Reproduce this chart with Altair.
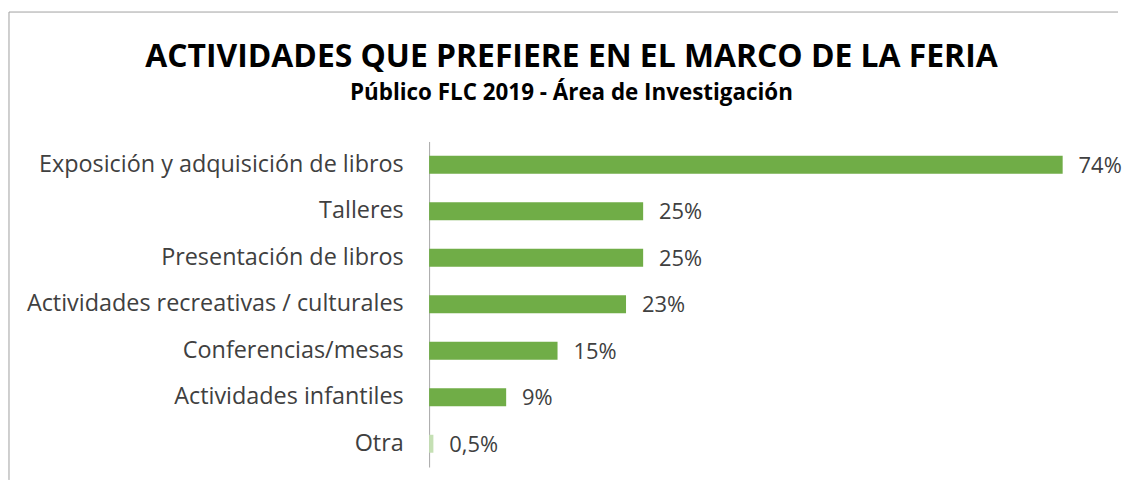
import altair as alt
import pandas as pd

categorias = [
    "Exposición y adquisición de libros",
    "Talleres",
    "Presentación de libros",
    "Actividades recreativas / culturales",
    "Conferencias/mesas",
    "Actividades infantiles",
    "Otra",
]
porcentajes = [74, 25, 25, 23, 15, 9, 0.5]
etiquetas = ["74%", "25%", "25%", "23%", "15%", "9%", "0,5%"]

df = pd.DataFrame({"categoria": categorias, "valor": porcentajes, "etiqueta": etiquetas})

FONT = "Open Sans"

y_enc = alt.Y(
    "categoria:N",
    sort=categorias,
    title=None,
    scale=alt.Scale(paddingInner=0.614, paddingOuter=0.307),
    axis=alt.Axis(
        labelFont=FONT,
        labelFontSize=23.5,
        labelColor="#404040",
        labelPadding=26,
        labelLimit=0,
        ticks=False,
        domainColor="#A6A6A6",
        domainWidth=1,
        grid=False,
        minExtent=422,
        maxExtent=422,
    ),
)
x_enc = alt.X("valor:Q", axis=None, scale=alt.Scale(domain=[0, 80], nice=False))

base = alt.Chart(df)

bars = base.mark_bar().encode(
    x=x_enc,
    y=y_enc,
    color=alt.condition(
        alt.datum.categoria == "Otra", alt.value("#C5E0B4"), alt.value("#70AD47")
    ),
)

labels = base.mark_text(
    align="left", baseline="middle", dx=16, dy=1, font=FONT, fontSize=22, color="#404040"
).encode(x=x_enc, y=y_enc, text="etiqueta:N")

frame_df = pd.DataFrame({"k": [0]})
top_line = alt.Chart(frame_df).mark_rule(color="#A0A0A0", strokeWidth=1).encode(
    x=alt.value(-422), x2=alt.value(692), y=alt.value(-130)
)
left_line = alt.Chart(frame_df).mark_rule(color="#A0A0A0", strokeWidth=1).encode(
    x=alt.value(-422), y=alt.value(-130), y2=alt.value(340)
)

chart = (
    alt.layer(top_line, left_line, bars, labels)
    .properties(
        width=688,
        height=327,
        padding={"left": 0, "top": 2, "right": 0, "bottom": 0},
        title=alt.TitleParams(
            text="ACTIVIDADES QUE PREFIERE EN EL MARCO DE LA FERIA",
            subtitle="Público FLC 2019 - Área de Investigación",
            anchor="middle",
            frame="group",
            dx=-(430 + 344 - 573),
            offset=-94,
            font=FONT,
            fontSize=32,
            fontWeight="bold",
            color="#000000",
            subtitleFont=FONT,
            subtitleFontSize=22.5,
            subtitleFontWeight="bold",
            subtitleColor="#000000",
            subtitlePadding=8,
        ),
    )
    .configure(background="white")
    .configure_view(stroke=None)
)

chart.save("out.html", embed_options={"renderer": "svg", "actions": False})
